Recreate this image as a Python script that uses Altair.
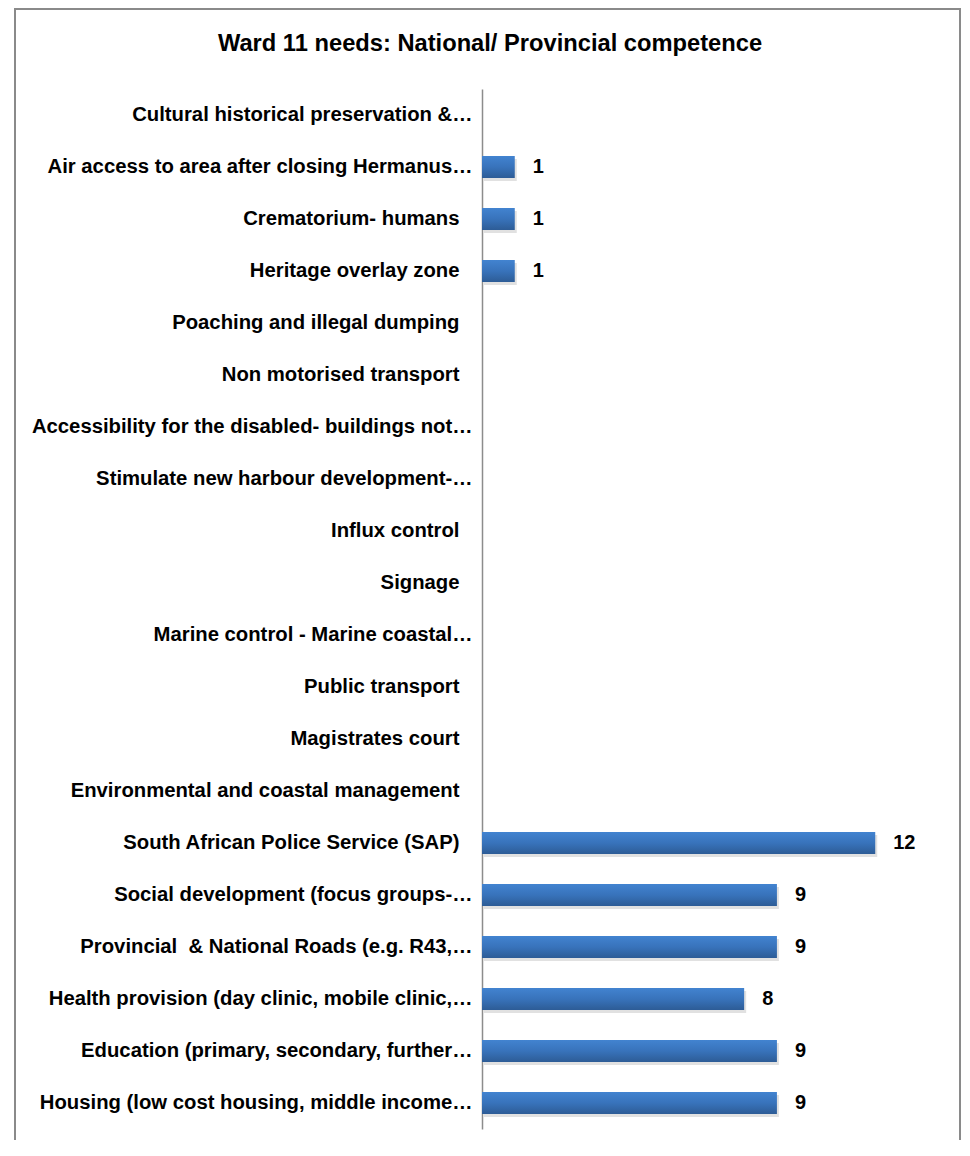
import altair as alt
import pandas as pd

NB = "\u00a0"
categories = [
    "Cultural historical preservation &…",
    "Air access to area after closing Hermanus…",
    "Crematorium- humans",
    "Heritage overlay zone",
    "Poaching and illegal dumping",
    "Non motorised transport",
    "Accessibility for the disabled- buildings not…",
    "Stimulate new harbour development-…",
    "Influx control",
    "Signage",
    "Marine control - Marine coastal…",
    "Public transport",
    "Magistrates court",
    "Environmental and coastal management",
    "South African Police Service (SAP)",
    "Social development (focus groups-…",
    "Provincial " + NB + "& National Roads (e.g. R43,…",
    "Health provision (day clinic, mobile clinic,…",
    "Education (primary, secondary, further…",
    "Housing (low cost housing, middle income…",
]
values = [0, 1, 1, 1, 0, 0, 0, 0, 0, 0, 0, 0, 0, 0, 12, 9, 9, 8, 9, 9]
title_text = "Ward 11 needs: National/ Provincial competence"

df = pd.DataFrame({"need": categories, "count": values})
df["label"] = [str(v) if v > 0 else "" for v in values]

FONT = "Liberation Sans"
W, H = 426, 1040

y_enc = alt.Y(
    "need:N",
    sort=categories,
    scale=alt.Scale(paddingInner=0.58, paddingOuter=0.29),
    axis=alt.Axis(
        title=None,
        ticks=False,
        domainColor="#8c8c8c",
        domainWidth=1.5,
        labelFont=FONT,
        labelFontWeight="bold",
        labelFontSize=20.3,
        labelColor="#000000",
        labelPadding={
            "condition": {
                "test": "substring(datum.label, length(datum.label) - 1) == '…'",
                "value": 10,
            },
            "value": 23,
        },
        labelLimit=0,
    ),
)
x_enc = alt.X("count:Q", scale=alt.Scale(domain=[0, 13]), axis=None)

base = alt.Chart(df)

frame = alt.Chart(pd.DataFrame({"f": [0]})).mark_rect(
    fill=None, stroke="#8a8a8a", strokeWidth=2, clip=False
).encode(
    x=alt.value(-467), x2=alt.value(478), y=alt.value(-80), y2=alt.value(1100)
)

title = alt.Chart(pd.DataFrame({"t": [title_text]})).mark_text(
    font=FONT, fontWeight="bold", fontSize=23.7, color="#000000",
    align="center", baseline="alphabetic",
).encode(x=alt.value(8), y=alt.value(-38), text="t:N")

shadow = base.transform_filter("datum.count > 0").mark_bar(
    color="#9a9a9a", opacity=0.3, size=22, xOffset=2, yOffset=3
).encode(y=y_enc, x=x_enc)

bars = base.transform_filter("datum.count > 0").mark_bar(
    size=22,
    color=alt.Gradient(
        gradient="linear",
        x1=0, x2=0, y1=0, y2=1,
        stops=[
            alt.GradientStop(color="#4283d0", offset=0),
            alt.GradientStop(color="#3873bb", offset=0.5),
            alt.GradientStop(color="#2d5c96", offset=1),
        ],
    ),
).encode(y=y_enc, x=x_enc)

labels = base.mark_text(
    align="left", dx=18, font=FONT, fontWeight="bold", fontSize=20, color="#000000"
).encode(y=y_enc, x=x_enc, text="label:N")

chart = alt.layer(frame, title, shadow, bars, labels).properties(
    width=W,
    height=H,
    autosize=alt.AutoSizeParams(type="none"),
    padding={"left": 474, "top": 81, "right": 54, "bottom": 11},
).configure_view(stroke=None)

chart.save("out.html", embed_options={"renderer": "svg", "actions": False})
